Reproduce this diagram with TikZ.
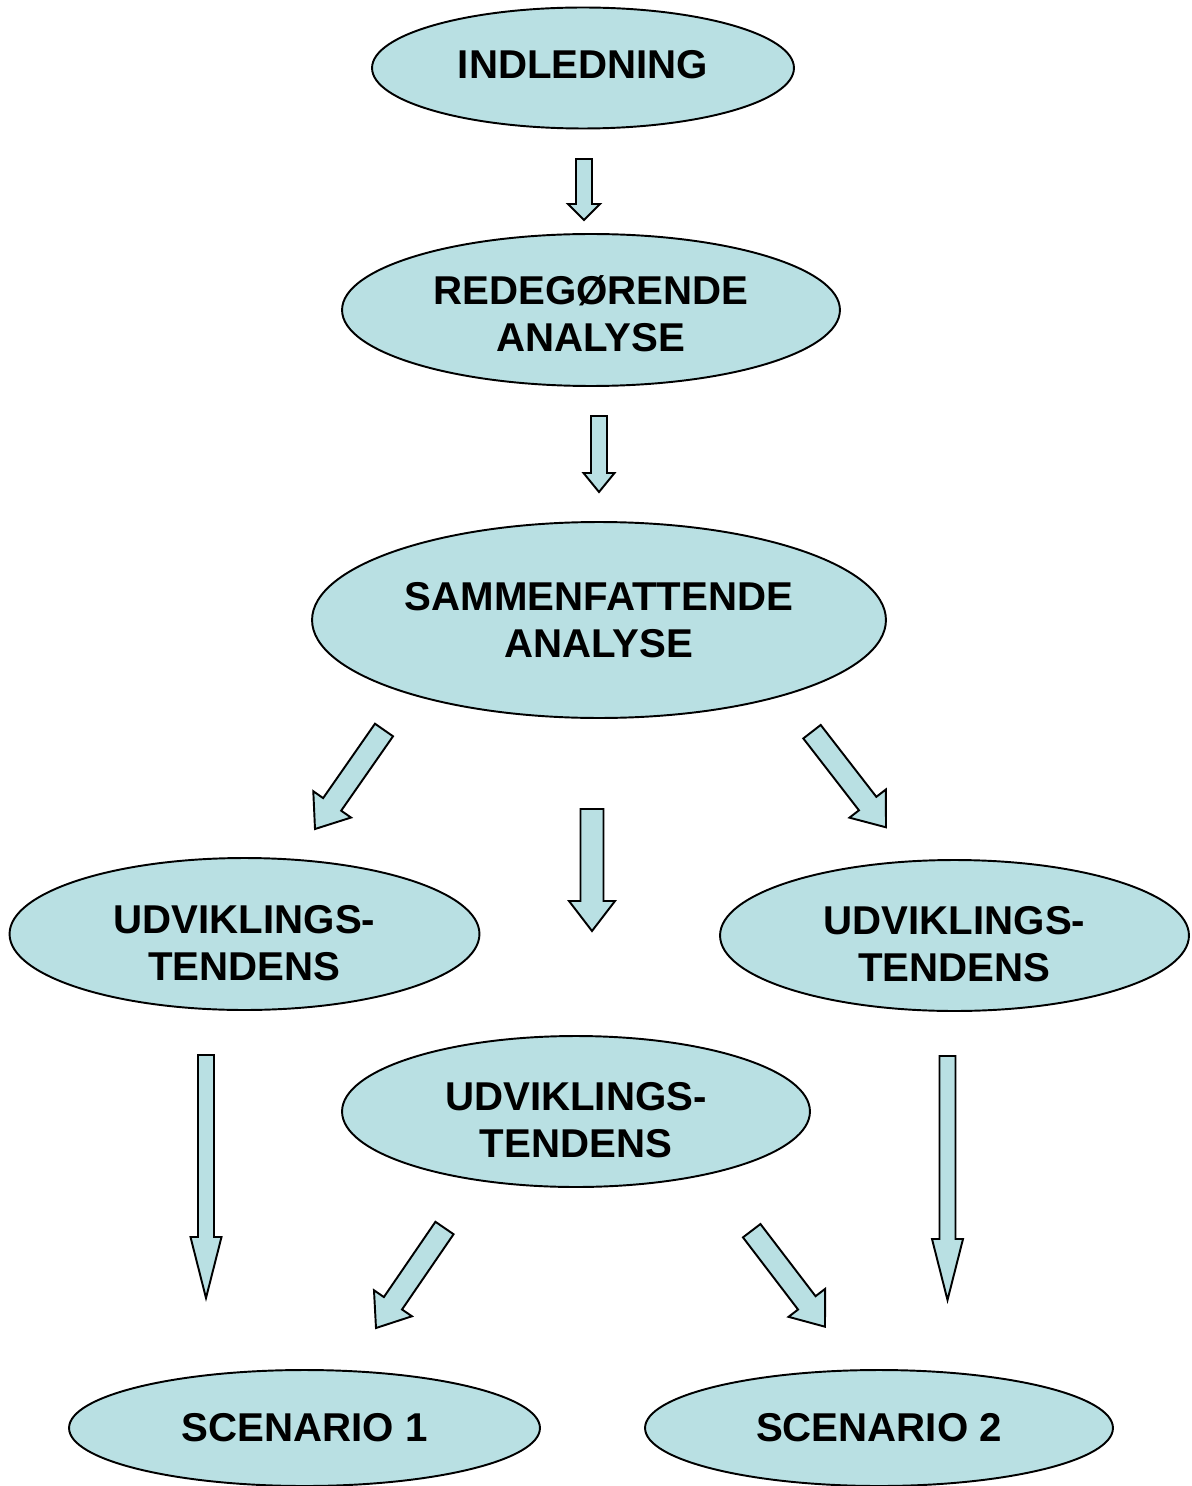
\documentclass[tikz,border=0pt]{standalone}
\usepackage{fontspec}
\setmainfont{Liberation Sans}
\usepackage{tikz}
\usetikzlibrary{calc}
\usetikzlibrary{shapes.geometric}
\definecolor{bubblefill}{RGB}{185,224,227}
\def\blockarrow(#1)(#2)#3#4#5{
    \coordinate (head) at ($(#2)!#5!(#1)$);
    \draw [blockarrow] ($(#1)!#3!90:(#2)$) -- ($(head)!#3!-90:(#1)$) -- ($(head)!#4!-90:(#1)$) -- (#2)
        -- ($(head)!#4!90:(#1)$) -- ($(head)!#3!90:(#1)$) -- ($(#1)!#3!-90:(#2)$) -- cycle;
}
\tikzstyle{every node}=[font=\bfseries\fontsize{22.9pt}{26.8pt}\selectfont]
\tikzset{
    bubble/.style={ellipse, draw, line width=1.1pt, fill=bubblefill, inner sep=0pt},
    txt/.style={align=center, inner sep=0pt},
    blockarrow/.style={draw, line width=1.1pt, fill=bubblefill, line join=miter}
}

\begin{document}
\begin{tikzpicture}[x=0.02cm, y=-0.02cm]
        \useasboundingbox (0, 0) rectangle (1191, 1486);

        \node [bubble, minimum width=8.44cm, minimum height=2.42cm,
            label={[txt, yshift=1.7pt]center:INDLEDNING}] (indl) at (583, 68) {};
        \node [bubble, minimum width=9.96cm, minimum height=3.04cm,
            label={[txt, yshift=-2.2pt]center:REDEGØRENDE\\ANALYSE}] (redeg) at (591, 310) {};
        \node [bubble, minimum width=11.48cm, minimum height=3.92cm,
            label={[txt]center:SAMMENFATTENDE\\ANALYSE}] (samm) at (599, 620) {};
        \node [bubble, minimum width=9.4cm, minimum height=3.04cm,
            label={[txt, yshift=-5pt]center:UDVIKLINGS-\\TENDENS}] (udvA) at (244.5, 934) {};
        \node [bubble, minimum width=9.38cm, minimum height=3.02cm,
            label={[txt, yshift=-5pt]center:UDVIKLINGS-\\TENDENS}] (udvB) at (954.5, 935.5) {};
        \node [bubble, minimum width=9.36cm, minimum height=3.02cm,
            label={[txt, yshift=-4.8pt]center:UDVIKLINGS-\\TENDENS}] (udvC) at (576, 1111.5) {};
        \node [bubble, minimum width=9.42cm, minimum height=2.32cm,
            label={[txt]center:SCENARIO 1}] (scenA) at (304.5, 1428) {};
        \node [bubble, minimum width=9.36cm, minimum height=2.32cm,
            label={[txt]center:SCENARIO 2}] (scenB) at (879, 1428) {};

        \coordinate (indlT) at (584, 159);
        \coordinate (indlP) at (584, 220);
        \coordinate (redegT) at (599, 416);
        \coordinate (redegP) at (599, 492);
        \coordinate (sammLT) at (384, 730);
        \coordinate (sammLP) at (315, 829);
        \coordinate (sammMT) at (592, 809);
        \coordinate (sammMP) at (592, 931);
        \coordinate (sammRT) at (812, 731.7);
        \coordinate (sammRP) at (886, 827.3);
        \coordinate (udvAT) at (206, 1055);
        \coordinate (udvAP) at (206, 1298);
        \coordinate (udvBT) at (947.5, 1056);
        \coordinate (udvBP) at (947.5, 1300);
        \coordinate (udvCLT) at (444.5, 1228);
        \coordinate (udvCLP) at (376, 1328);
        \coordinate (udvCRT) at (751.7, 1230.7);
        \coordinate (udvCRP) at (825, 1326.7);

        \blockarrow(indlT)(indlP){0.16cm}{0.32cm}{0.32cm};
        \blockarrow(redegT)(redegP){0.16cm}{0.31cm}{0.38cm};
        \blockarrow(sammLT)(sammLP){0.22cm}{0.46cm}{0.6cm};
        \blockarrow(sammMT)(sammMP){0.23cm}{0.46cm}{0.6cm};
        \blockarrow(sammRT)(sammRP){0.22cm}{0.46cm}{0.6cm};
        \blockarrow(udvAT)(udvAP){0.16cm}{0.31cm}{1.22cm};
        \blockarrow(udvBT)(udvBP){0.16cm}{0.31cm}{1.22cm};
        \blockarrow(udvCLT)(udvCLP){0.22cm}{0.46cm}{0.6cm};
        \blockarrow(udvCRT)(udvCRP){0.22cm}{0.46cm}{0.6cm};
    \end{tikzpicture}
\end{document}
